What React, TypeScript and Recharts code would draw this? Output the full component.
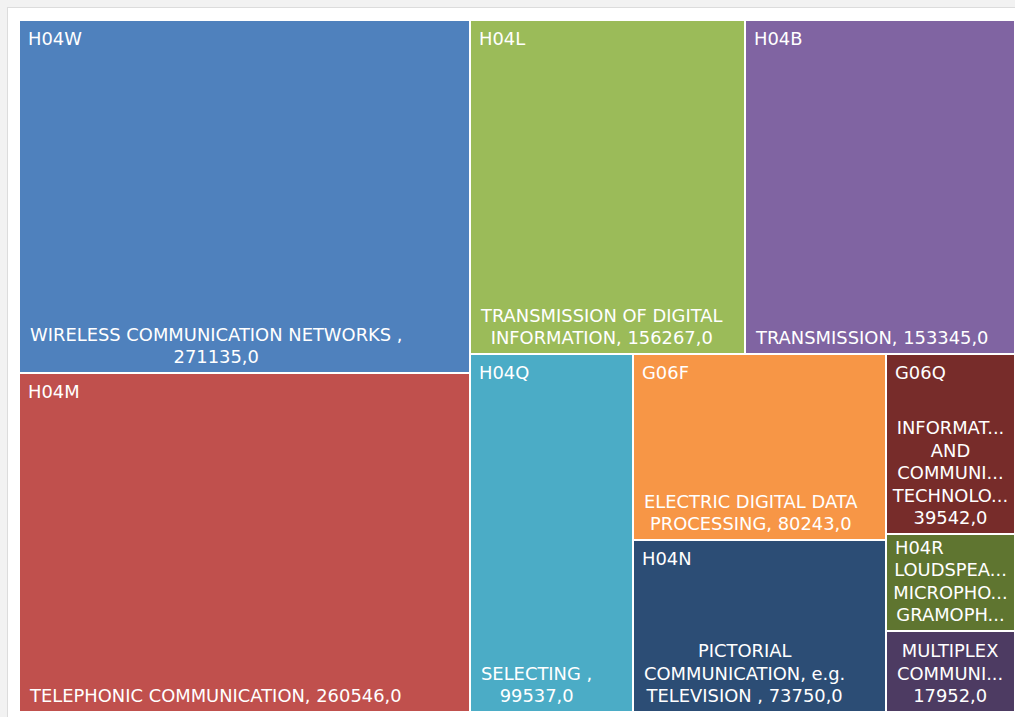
import React from 'react';
import { Treemap } from 'recharts';

const codes = ['H04W', 'H04M', 'H04L', 'H04B', 'H04Q', 'G06F', 'H04N', 'G06Q', 'H04R', 'H04J'];
const values = [271135, 260546, 156267, 153345, 99537, 80243, 73750, 39542, 21200, 17952];
// label lines as shown in the tiles, {v} is replaced by the value
const descriptions = [
  ['WIRELESS COMMUNICATION NETWORKS ,', '{v}'],
  ['TELEPHONIC COMMUNICATION, {v}'],
  ['TRANSMISSION OF DIGITAL', 'INFORMATION, {v}'],
  ['TRANSMISSION, {v}'],
  ['SELECTING ,', '{v}'],
  ['ELECTRIC DIGITAL DATA', 'PROCESSING, {v}'],
  ['PICTORIAL', 'COMMUNICATION, e.g.', 'TELEVISION , {v}'],
  ['INFORMAT...', 'AND', 'COMMUNI...', 'TECHNOLO...', '{v}'],
  ['LOUDSPEA...', 'MICROPHO...', 'GRAMOPH...'],
  ['MULTIPLEX', 'COMMUNI...', '{v}'],
];
const COLORS = ['#4f81bd', '#c0504d', '#9bbb59', '#8064a2', '#4bacc6', '#f79646', '#2c4d75', '#772c2a', '#5f7530', '#4d3b62'];

const data = codes.map((code, i) => ({
  name: code,
  value: values[i],
  lines: descriptions[i].map((l) => l.replace('{v}', `${values[i]},0`)),
  color: COLORS[i],
}));

const FONT = '"DejaVu Sans", Verdana, sans-serif';
const FONT_SIZE = 17.9;
const LINE_H = 22.4;

let ctx: CanvasRenderingContext2D | null = null;
function textWidth(s: string) {
  if (!ctx) ctx = document.createElement('canvas').getContext('2d');
  if (!ctx) return s.length * FONT_SIZE * 0.65;
  ctx.font = `${FONT_SIZE}px "DejaVu Sans"`;
  return ctx.measureText(s).width;
}

function Tile(props: any) {
  const { x, y, width, height, depth, name, lines, color } = props;
  if (depth !== 1 || !lines) return null;
  const maxW = Math.max(...lines.map(textWidth));
  const cx = x + 11 + Math.min(maxW, width - 22) / 2;
  const lastBase = y + height - 10;
  const firstBase = lastBase - (lines.length - 1) * LINE_H;
  // code sits at the top-left, nudged up in tight tiles so it does not hit the text
  const codeBase = Math.min(y + 25, firstBase - LINE_H);
  const showCode = codeBase >= y + 17;
  return (
    <g>
      <rect x={x} y={y} width={width} height={height} fill={color} stroke="#fff" strokeWidth={2} />
      {showCode && (
        <text x={x + 9} y={codeBase} fill="#fff" fontSize={FONT_SIZE} fontFamily={FONT} stroke="none">
          {name}
        </text>
      )}
      <text fill="#fff" fontSize={FONT_SIZE} fontFamily={FONT} textAnchor="middle" stroke="none">
        {lines.map((l: string, i: number) => (
          <tspan key={i} x={cx} y={firstBase + i * LINE_H}>
            {l}
          </tspan>
        ))}
      </text>
    </g>
  );
}

export default function App() {
  return (
    <div style={{ position: 'fixed', inset: 0, background: '#f2f2f2', overflow: 'hidden' }}>
      <div
        style={{
          position: 'absolute',
          left: 7,
          top: 7,
          width: 1020,
          height: 730,
          background: '#fff',
          border: '1px solid #dcdcdc',
        }}
      />
      <div style={{ position: 'absolute', left: 19, top: 20 }}>
        <Treemap
          width={996}
          height={692}
          data={data}
          dataKey="value"
          nameKey="name"
          aspectRatio={0.82}
          isAnimationActive={false}
          content={<Tile />}
        />
      </div>
    </div>
  );
}
